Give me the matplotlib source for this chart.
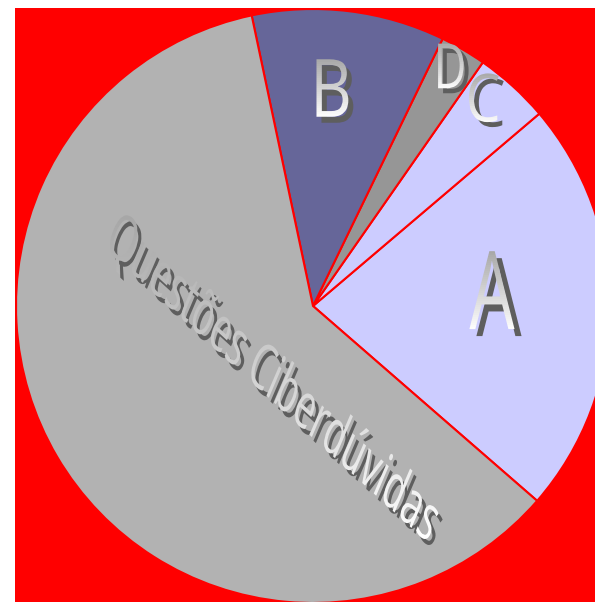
import math
import matplotlib
matplotlib.use("Agg")
import matplotlib.pyplot as plt
from matplotlib.patches import Rectangle
from matplotlib.patheffects import AbstractPathEffect
from matplotlib.transforms import Affine2D, Bbox
from matplotlib.colors import to_rgb

# ---- data (percent shares, counter-clockwise from the A slice) ----
labels = ["A", "C", "D", "B", "Questões Ciberdúvidas"]
shares = [22.6, 4.1, 2.5, 10.5, 60.3]
colors = ["#CCCCFF", "#CCCCFF", "#969696", "#666699", "#B2B2B2"]


class WordArt(AbstractPathEffect):
    """Distorted glyphs (local scale + display-level vertical stretch) with a
    drop shadow and a vertical gradient fill."""

    def __init__(self, sx=1.0, sy=1.0, vy=1.0, offset=(5, -5), shadow="#5E5E5E",
                 top="#A6A6A6", bottom="#FFFFFF", step=2):
        super().__init__()
        self.sx, self.sy, self.vy = sx, sy, vy
        self.offset = offset
        self.shadow = to_rgb(shadow)
        self.top = to_rgb(top)
        self.bottom = to_rgb(bottom)
        self.step = step

    def draw_path(self, renderer, gc, tpath, affine, rgbFace=None):
        ext = tpath.get_extents()
        cx = 0.5 * (ext.x0 + ext.x1)
        cy = 0.5 * (ext.y0 + ext.y1)
        aff = (Affine2D().translate(-cx, -cy).scale(self.sx, self.sy).translate(cx, cy)
               + affine)
        d = tpath.transformed(aff).get_extents()
        dcx = 0.5 * (d.x0 + d.x1)
        dcy = 0.5 * (d.y0 + d.y1)
        aff = aff + Affine2D().translate(-dcx, -dcy).scale(1, self.vy).translate(dcx, dcy)
        g = renderer.new_gc()
        g.copy_properties(gc)
        g.set_linewidth(0)
        renderer.draw_path(g, tpath, aff + Affine2D().translate(*self.offset), self.shadow)
        bb = tpath.transformed(aff).get_extents()
        y0 = math.floor(bb.y0) - 1
        y1 = math.ceil(bb.y1) + 1
        span = max(y1 - y0, 1)
        for yy in range(y0, y1, self.step):
            t = (yy + 0.5 * self.step - y0) / span
            col = tuple(b + (tp - b) * t for b, tp in zip(self.bottom, self.top))
            g2 = renderer.new_gc()
            g2.copy_properties(g)
            g2.set_clip_rectangle(Bbox([[bb.x0 - 5, yy], [bb.x1 + 5, yy + self.step]]))
            renderer.draw_path(g2, tpath, aff, col)
            g2.restore()
        g.restore()


W, H = 595, 602
fig = plt.figure(figsize=(W / 100, H / 100), dpi=100)
fig.patch.set_facecolor("white")
ax = fig.add_axes([0, 0, 1, 1])

ax.add_patch(Rectangle((15, 0), W - 15, H - 8, facecolor="#FF0000", edgecolor="none", zorder=0))

wedges, _ = ax.pie(shares, colors=colors, startangle=-41, counterclock=True,
                   center=(313, 296), radius=297,
                   wedgeprops=dict(edgecolor="#FF0000", linewidth=1.5))
for w in wedges:
    w.set_zorder(1)

ax.set_xlim(0, W)
ax.set_ylim(0, H)
ax.set_aspect("equal")
ax.axis("off")

fam = ["Open Sans", "DejaVu Sans"]
# label, x, y, size(pt), rotation, local sx, local sy, display vy, shadow offset
label_style = [
    ("A", 492, 305, 51.5, 0, 1.0, 1.52, 1.0, (7, -7)),
    ("C", 483, 499, 39.8, 0, 1.0, 1.20, 1.0, (5, -5)),
    ("D", 450, 532, 32.4, 0, 1.0, 1.39, 1.0, (5, -5)),
    ("B", 331, 508, 46.4, 0, 1.0, 1.25, 1.0, (5, -6)),
    ("Questões Ciberdúvidas", 272, 222, 32, -32, 0.80, 1.0, 1.46, (4, -6)),
]
for txt, x, y, size, rot, sx, sy, vy, off in label_style:
    ax.text(x, y, txt, fontsize=size, family=fam, rotation=rot,
            rotation_mode="anchor", ha="center", va="center", zorder=5,
            path_effects=[WordArt(sx=sx, sy=sy, vy=vy, offset=off)])

fig.savefig("out.png", dpi=100, facecolor="white")
